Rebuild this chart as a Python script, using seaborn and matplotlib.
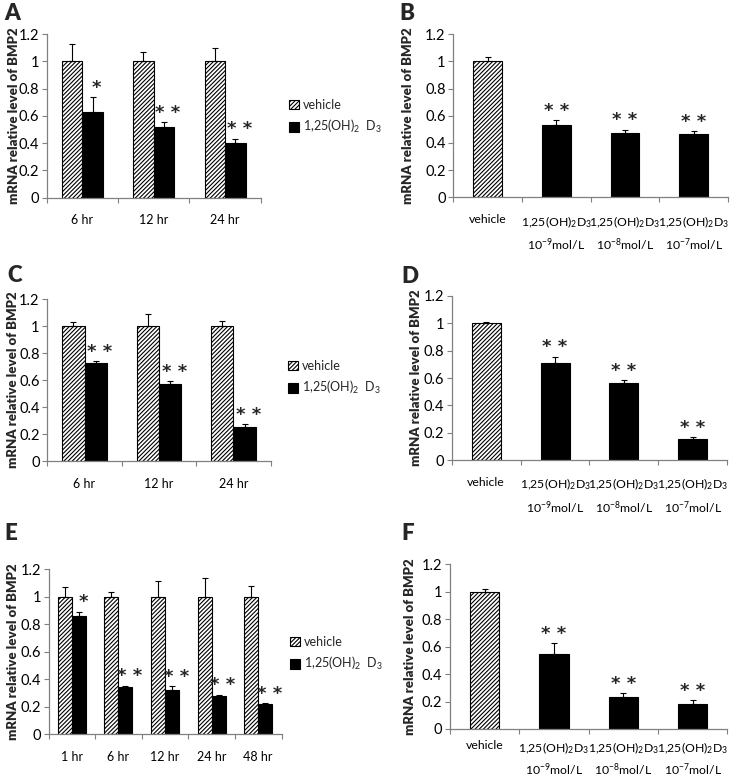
import numpy as np
import pandas as pd
import matplotlib
matplotlib.use("Agg")
import matplotlib.pyplot as plt
import seaborn as sns

# ---------------- data ----------------
D3_LABEL = "1,25(OH)$_2$  D$_3$"

a_times = ["6 hr", "12 hr", "24 hr"]
a_vehicle = [1.0, 1.0, 1.0]
a_vehicle_err = [0.13, 0.07, 0.10]
a_d3 = [0.63, 0.52, 0.40]
a_d3_err = [0.105, 0.035, 0.032]
a_sig = ["*", "* *", "* *"]

dose_labels = ["vehicle",
               "1,25(OH)$_2$D$_3$\n10$^{-9}$mol/L",
               "1,25(OH)$_2$D$_3$\n10$^{-8}$mol/L",
               "1,25(OH)$_2$D$_3$\n10$^{-7}$mol/L"]

b_values = [1.0, 0.535, 0.471, 0.464]
b_err = [0.036, 0.032, 0.027, 0.022]
b_sig = ["", "* *", "* *", "* *"]

c_times = ["6 hr", "12 hr", "24 hr"]
c_vehicle = [1.0, 1.0, 1.0]
c_vehicle_err = [0.027, 0.086, 0.035]
c_d3 = [0.726, 0.568, 0.252]
c_d3_err = [0.015, 0.022, 0.02]
c_sig = ["* *", "* *", "* *"]

d_values = [1.0, 0.713, 0.567, 0.153]
d_err = [0.012, 0.044, 0.015, 0.012]
d_sig = ["", "* *", "* *", "* *"]

e_times = ["1 hr", "6 hr", "12 hr", "24 hr", "48 hr"]
e_vehicle = [1.0, 1.0, 1.0, 1.0, 1.0]
e_vehicle_err = [0.068, 0.032, 0.112, 0.133, 0.075]
e_d3 = [0.859, 0.342, 0.318, 0.274, 0.216]
e_d3_err = [0.032, 0.008, 0.029, 0.01, 0.007]
e_sig = ["*", "* *", "* *", "* *", "* *"]

f_values = [1.0, 0.544, 0.235, 0.184]
f_err = [0.017, 0.08, 0.025, 0.025]
f_sig = ["", "* *", "* *", "* *"]

ytick_vals = [0, 0.2, 0.4, 0.6, 0.8, 1.0, 1.2]
ytick_labels = ["0", "0.2", "0.4", "0.6", "0.8", "1", "1.2"]
YLABEL = "mRNA relative level of BMP2"

# ---------------- style ----------------
sns.set_theme(style="white")
plt.rcParams["font.family"] = ["Lato", "DejaVu Sans"]
plt.rcParams["mathtext.fontset"] = "custom"
plt.rcParams["mathtext.rm"] = "Lato"
plt.rcParams["mathtext.it"] = "Lato:italic"
plt.rcParams["mathtext.bf"] = "Lato:bold"
plt.rcParams["hatch.linewidth"] = 0.8
plt.rcParams["hatch.color"] = "black"

W, H = 733, 783
fig = plt.figure(figsize=(W / 100, H / 100), dpi=100)
fig.patch.set_facecolor("white")

AXCOL = "#808080"
HATCH = "////////"


def add_ax(l, r, t, b):
    return fig.add_axes([l / W, 1 - b / H, (r - l) / W, (b - t) / H])


def style_axes(ax, n, ylab_x, letter, letter_xy, xpad):
    l, b, w, h = ax.get_position().bounds
    ax.set_xlim(-0.5, n - 0.5)
    ax.set_ylim(0, 1.2)
    ax.set_yticks(ytick_vals)
    ax.set_yticklabels(ytick_labels, fontsize=10.5)
    for s in ["top", "right"]:
        ax.spines[s].set_visible(False)
    for s in ["left", "bottom"]:
        ax.spines[s].set_color(AXCOL)
        ax.spines[s].set_linewidth(0.9)
    ax.tick_params(axis="y", which="major", left=True, length=3.5, width=0.8,
                   color=AXCOL, pad=2, labelcolor="black")
    ax.set_xticks(np.arange(-0.5, n, 1.0), minor=True)
    ax.tick_params(axis="x", which="minor", bottom=True, length=3.5, width=0.8,
                   color=AXCOL)
    ax.tick_params(axis="x", which="major", bottom=True, length=0, pad=xpad,
                   labelsize=9, labelcolor="black")
    ax.set_xlabel("")
    ax.set_ylabel(YLABEL, fontsize=9.5, fontweight="heavy", va="center", ha="center")
    ax.yaxis.set_label_coords((ylab_x / W - l) / w, 0.5)
    fig.text(letter_xy[0] / W, 1 - letter_xy[1] / H, letter, fontsize=16,
             fontweight="heavy", ha="left", va="top")


def add_err_and_stars(ax, containers, values_list, err_list, sig_list, dx):
    for cont, vals, errs, sigs in zip(containers, values_list, err_list, sig_list):
        xs = np.array([p.get_x() + p.get_width() / 2 for p in cont])
        vals = np.asarray(vals)
        errs = np.asarray(errs)
        ax.errorbar(xs, vals, yerr=[np.zeros_like(errs), errs], fmt="none",
                    ecolor="black", elinewidth=0.8, capsize=2.5, capthick=0.8)
        if sigs is None:
            continue
        for x, v, e, s in zip(xs, vals, errs, sigs):
            if s:
                ax.annotate(s, xy=(x, v + e + 0.11), xytext=(dx, -4),
                            textcoords="offset points", ha="center", va="center",
                            fontsize=13, fontweight="bold",
                            family=["DejaVu Sans"])


def grouped_panel(rect, cats, veh, veh_err, d3, d3_err, sig, width,
                  ylab_x, letter, letter_xy, leg_xy):
    ax = add_ax(*rect)
    n = len(cats)
    df = pd.DataFrame({
        "time": cats + cats,
        "group": ["vehicle"] * n + [D3_LABEL] * n,
        "value": list(veh) + list(d3),
    })
    sns.barplot(data=df, x="time", y="value", hue="group", order=cats,
                hue_order=["vehicle", D3_LABEL], palette=["white", "black"],
                width=width, errorbar=None, saturation=1, edgecolor="black",
                linewidth=0.8, legend=False, ax=ax)
    conts = list(ax.containers[:2])
    for p in conts[0]:
        p.set_hatch(HATCH)
        p.set_edgecolor("black")
    add_err_and_stars(ax, conts, [veh, d3], [veh_err, d3_err], [None, sig], 3)
    style_axes(ax, n, ylab_x, letter, letter_xy, 12)
    ax.legend(handles=conts, labels=["vehicle", D3_LABEL], loc="center left",
              bbox_to_anchor=(leg_xy[0] / W, 1 - leg_xy[1] / H),
              bbox_transform=fig.transFigure, frameon=False, fontsize=9,
              borderpad=0, borderaxespad=0, handlelength=0.8, handleheight=0.8,
              handletextpad=0.3, labelspacing=0.6)
    return ax


def dose_panel(rect, values, errs, sig, width, ylab_x, letter, letter_xy,
               xpad=12, linesp=1.55):
    ax = add_ax(*rect)
    n = len(dose_labels)
    df = pd.DataFrame({"dose": dose_labels, "value": values})
    sns.barplot(data=df, x="dose", y="value", hue="dose", order=dose_labels,
                palette=["white"] + ["black"] * (n - 1), width=width,
                errorbar=None, saturation=1, edgecolor="black", linewidth=0.8,
                legend=False, ax=ax)
    patches = [p for c in ax.containers for p in c]
    patches.sort(key=lambda p: p.get_x())
    patches[0].set_hatch(HATCH)
    add_err_and_stars(ax, [patches], [values], [errs], [sig], 0)
    style_axes(ax, n, ylab_x, letter, letter_xy, xpad)
    for t in ax.get_xticklabels():
        t.set_linespacing(linesp)
        t.set_va("top")
        t.set_fontsize(8.8)
    return ax


grouped_panel((46.7, 260.7, 34, 197.7), a_times, a_vehicle, a_vehicle_err,
              a_d3, a_d3_err, a_sig, 0.575, 14, "A", (4, 3), (289, 117))
dose_panel((453.3, 728, 34.3, 197.3), b_values, b_err, b_sig, 0.42,
           408, "B", (399, 3))
grouped_panel((47.3, 270.7, 299, 461), c_times, c_vehicle, c_vehicle_err,
              c_d3, c_d3_err, c_sig, 0.6, 13.5, "C", (7, 265), (288, 378))
dose_panel((451.7, 727.3, 296, 460), d_values, d_err, d_sig, 0.42,
           416, "D", (401, 266))
grouped_panel((48.5, 281.5, 569.3, 734), e_times, e_vehicle, e_vehicle_err,
              e_d3, e_d3_err, e_sig, 0.6, 13.5, "E", (4, 523), (290, 654))
dose_panel((450, 727.3, 564.3, 729), f_values, f_err, f_sig, 0.42,
           410, "F", (401, 523), xpad=8, linesp=1.4)

fig.savefig("out.png", dpi=100)
